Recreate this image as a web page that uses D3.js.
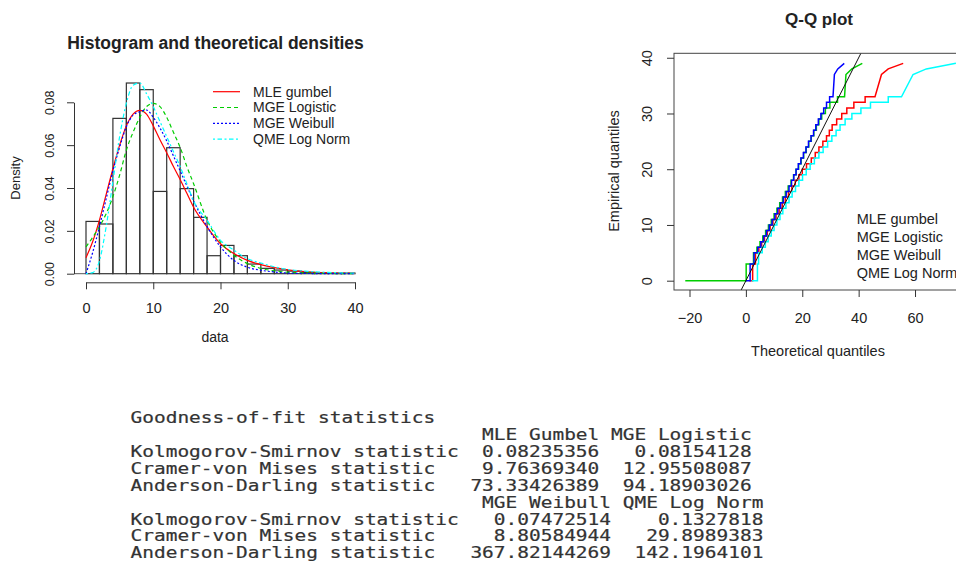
<!DOCTYPE html>
<html>
<head>
<meta charset="utf-8">
<script src="https://cdn.jsdelivr.net/npm/d3@7"></script>
<style>
  body { margin: 0; background: #fff; }
  svg { display: block; font-family: "Liberation Sans", Arial, sans-serif; }
</style>
</head>
<body>
<svg id="fig" width="956" height="561"></svg>
<script>
// ---- histogram + fitted densities ----
const binEdges = [0,2,4,6,8,10,12,14,16,18,20,22,24,26,28,30,32,34,36,38,40];
const binDensity = [0.0244,0.0232,0.0725,0.0890,0.0859,0.0384,0.0588,0.0397,0.0263,0.0084,
                    0.0132,0.0084,0.0045,0.0025,0.0017,0.0012,0.0006,0.0004,0.0003,0.0003];

const densX      = [0,1,2,3,4,5,6,7,8,9,10,11,12,13,14,15,16,18,20,22,24,26,28,30,33,36,40];
const gumbelDens = [0.0075,0.015,0.025,0.037,0.049,0.060,0.069,0.0745,0.0762,0.0745,0.069,0.0625,0.0565,0.050,0.044,0.0375,0.031,0.0218,0.014,0.0094,0.0062,0.0042,0.0028,0.0018,0.0009,0.0004,0.0002];
const logisDens  = [0.0125,0.017,0.022,0.028,0.036,0.046,0.0577,0.066,0.073,0.078,0.0795,0.078,0.073,0.066,0.059,0.050,0.042,0.025,0.0148,0.0086,0.0047,0.0025,0.0013,0.0007,0.0003,0.0001,0.00005];
const weibDens   = [0.0,0.010,0.022,0.035,0.048,0.059,0.0686,0.074,0.0756,0.0764,0.073,0.068,0.062,0.055,0.048,0.041,0.034,0.022,0.0125,0.0062,0.003,0.0016,0.0008,0.0003,0.0001,0.0,0.0];
const lnormDens  = [0.0,0.0005,0.006,0.022,0.043,0.064,0.0795,0.088,0.089,0.084,0.078,0.071,0.064,0.057,0.050,0.042,0.034,0.025,0.0156,0.011,0.007,0.005,0.0032,0.002,0.0011,0.0006,0.0003];

const fitNames  = ['MLE gumbel', 'MGE Logistic', 'MGE Weibull', 'QME Log Norm'];
const fitColors = ['#ff0000', '#00cd00', '#0000ff', '#00ffff'];
const fitDash   = [null, '4,3', '2,2', '2,2.5,4.5,2.5'];

// ---- Q-Q plot: empirical quantiles (ties give the steps) ----
const empQ = [0,0, 3,3, 5,5, 6,6, 7,7, 8,8, 9,9, 10,10, 11,11, 12,12, 13,13, 14,14, 15,15, 16,16,
              17,17, 18,18, 19,19, 20,20, 21,21, 22,22, 23,23, 24,24, 25,25, 26,26, 27,27, 28,28,
              29,29, 30,30, 31,31, 32,32, 33,33, 37, 38, 39];
const gumbelQ = [1.2,2.4, 2.4,3.4, 3.4,4.6, 4.6,5.6, 5.6,6.6, 6.6,7.6, 7.6,8.6, 8.6,9.6, 9.6,10.7, 10.7,11.8,
                 11.8,12.9, 12.9,14.0, 14.0,15.1, 15.1,16.3, 16.3,17.5, 17.5,18.8, 18.8,20.0, 20.0,21.5,
                 21.5,23.2, 23.2,24.6, 24.6,25.9, 25.9,27.3, 27.3,28.6, 28.6,29.6, 29.6,30.6, 30.6,32.2,
                 32.2,34.0, 34.0,35.8, 35.8,38.3, 38.3,42.3, 42.3,45.8, 48.1, 50.5, 55.8];
const logisQ  = [-21.5,0.1, 0.1,2.7, 2.7,3.9, 3.9,5.0, 5.0,6.0, 6.0,7.0, 7.0,8.0, 8.0,9.0, 9.0,10.0, 10.0,11.0,
                 11.0,12.0, 12.0,13.0, 13.0,14.0, 14.0,15.0, 15.0,16.0, 16.0,16.9, 16.9,17.8, 17.8,18.7,
                 18.7,19.6, 19.6,20.5, 20.5,21.4, 21.4,22.3, 22.3,23.2, 23.2,24.1, 24.1,25.0, 25.0,25.9,
                 25.9,26.9, 26.9,28.2, 28.2,29.8, 29.8,32.5, 32.5,35.0, 35.5, 37.6, 41.3];
const weibQ   = [0.0,1.5, 1.5,2.9, 2.9,4.2, 4.2,5.3, 5.3,6.3, 6.3,7.3, 7.3,8.3, 8.3,9.3, 9.3,10.3, 10.3,11.3,
                 11.3,12.3, 12.3,13.3, 13.3,14.3, 14.3,15.3, 15.3,16.2, 16.2,17.0, 17.0,17.8, 17.8,18.6,
                 18.6,19.5, 19.5,20.4, 20.4,21.3, 21.3,22.2, 22.2,23.1, 23.1,24.0, 24.0,24.8, 24.8,25.7,
                 25.7,26.6, 26.6,27.6, 27.6,28.6, 28.6,29.7, 29.7,30.9, 31.4, 32.6, 34.9];
const lnormQ  = [2.1,4.1, 4.1,4.5, 4.5,5.8, 5.8,6.9, 6.9,7.9, 7.9,9.0, 9.0,10.0, 10.0,11.0, 11.0,12.1, 12.1,13.1,
                 13.1,14.2, 14.2,15.3, 15.3,16.4, 16.4,17.6, 17.6,18.8, 18.8,20.1, 20.1,21.4, 21.4,22.8,
                 22.8,24.3, 24.3,25.9, 25.9,27.4, 27.4,29.0, 29.0,30.5, 30.5,32.0, 32.0,33.4, 33.4,35.2,
                 35.2,37.6, 37.6,40.8, 40.8,44.2, 44.2,50.5, 50.5,55.2, 59.3, 64.0, 74.5];

// ---- goodness-of-fit printout ----
const gofStats = ['Kolmogorov-Smirnov statistic', 'Cramer-von Mises statistic', 'Anderson-Darling statistic'];
const gofMethods = ['MLE Gumbel', 'MGE Logistic', 'MGE Weibull', 'QME Log Norm'];
const gumbelGof = ['0.08235356', '9.76369340', '73.33426389'];
const logisGof  = ['0.08154128', '12.95508087', '94.18903026'];
const weibGof   = ['0.07472514', '8.80584944', '367.82144269'];
const lnormGof  = ['0.1327818', '29.8989383', '142.1964101'];

const svg = d3.select('#fig');
const ink = '#222';

// ================= histogram panel =================
const hx = d3.scaleLinear().domain([0, 40]).range([86, 355]);
const hy = d3.scaleLinear().domain([0, 0.08]).range([273.7, 102.3]);
const hist = svg.append('g');

const bins = binDensity.map((d, i) => ({x0: binEdges[i], x1: binEdges[i + 1], d: d}));
hist.selectAll('rect.bar')
    .data(bins)
    .join('rect')
    .attr('class', 'bar')
    .attr('x', d => hx(d.x0))
    .attr('y', d => hy(d.d))
    .attr('width', d => hx(d.x1) - hx(d.x0))
    .attr('height', d => hy(0) - hy(d.d))
    .attr('fill', 'none')
    .attr('stroke', '#333')
    .attr('stroke-width', 1.2);

hist.append('line')
    .attr('x1', 74).attr('x2', hx(0)).attr('y1', hy(0)).attr('y2', hy(0))
    .attr('stroke', '#555');

const densSeries = [gumbelDens, logisDens, weibDens, lnormDens];
const densLine = d3.line().x(d => hx(d[0])).y(d => hy(d[1])).curve(d3.curveMonotoneX);
densSeries.forEach((vals, k) => {
    hist.append('path')
        .attr('d', densLine(densX.map((x, i) => [x, vals[i]])))
        .attr('fill', 'none')
        .attr('stroke', fitColors[k])
        .attr('stroke-width', 1.2)
        .attr('stroke-dasharray', fitDash[k]);
});

const hxAxis = hist.append('g')
    .attr('transform', `translate(0, 282.3)`)
    .call(d3.axisBottom(hx).tickValues([0, 10, 20, 30, 40]).tickSize(7).tickSizeOuter(0).tickPadding(13));
const hyAxis = hist.append('g')
    .attr('transform', `translate(74, 0)`)
    .call(d3.axisLeft(hy).tickValues([0, 0.02, 0.04, 0.06, 0.08]).tickFormat(d3.format('.2f')).tickSize(7).tickSizeOuter(0));
hyAxis.selectAll('text')
    .attr('x', 0).attr('dy', '0.35em')
    .attr('transform', 'translate(-24.7, 0) rotate(-90)')
    .attr('text-anchor', 'middle')
    .style('font-size', '12.5px');
hxAxis.selectAll('text').style('font-size', '14.5px');
[hxAxis, hyAxis].forEach(g => {
    g.selectAll('path, line').attr('stroke', '#333');
    g.selectAll('text').attr('fill', ink).style('font-family', '"Liberation Sans", Arial, sans-serif');
});

hist.append('text')
    .attr('x', 215.5).attr('y', 49)
    .attr('text-anchor', 'middle')
    .style('font-size', '17.5px').style('font-weight', 'bold')
    .attr('fill', ink)
    .text('Histogram and theoretical densities');
hist.append('text')
    .attr('x', 215).attr('y', 342)
    .attr('text-anchor', 'middle')
    .style('font-size', '14px').attr('fill', ink)
    .text('data');
hist.append('text')
    .attr('transform', 'translate(19.5, 178) rotate(-90)')
    .attr('text-anchor', 'middle')
    .style('font-size', '13px').attr('fill', ink)
    .text('Density');

const hleg = hist.append('g');
fitNames.forEach((name, k) => {
    const yy = 91.7 + k * 15.8;
    hleg.append('line')
        .attr('x1', 213).attr('x2', 240).attr('y1', yy).attr('y2', yy)
        .attr('stroke', fitColors[k]).attr('stroke-width', 1.2)
        .attr('stroke-dasharray', fitDash[k]);
    hleg.append('text')
        .attr('x', 253).attr('y', yy).attr('dy', '0.35em')
        .style('font-size', '14px').attr('fill', ink)
        .text(name);
});

// ================= Q-Q panel =================
const qx = d3.scaleLinear().domain([-25.5, 79.5]).range([674, 970]);
const qy = d3.scaleLinear().domain([-1.67, 40.8]).range([290, 53.3]);
const qq = svg.append('g');

qq.append('clipPath').attr('id', 'qqclip')
  .append('rect')
    .attr('x', qx(-25.5)).attr('y', qy(40.8))
    .attr('width', qx(79.5) - qx(-25.5)).attr('height', qy(-1.67) - qy(40.8));

const qqSeries = [gumbelQ, logisQ, weibQ, lnormQ];
const qqLine = d3.line().x(d => qx(d[0])).y(d => qy(d[1]));
const qqPlot = qq.append('g').attr('clip-path', 'url(#qqclip)');
qqSeries.forEach((vals, k) => {
    qqPlot.append('path')
        .attr('d', qqLine(vals.map((x, i) => [x, empQ[i]])))
        .attr('fill', 'none')
        .attr('stroke', fitColors[k])
        .attr('stroke-width', 1.5);
});
qqPlot.append('path')
    .attr('d', qqLine([[-5, -5], [45, 45]]))
    .attr('fill', 'none').attr('stroke', '#111').attr('stroke-width', 1);

qq.append('rect')
    .attr('x', qx(-25.5)).attr('y', qy(40.8))
    .attr('width', qx(79.5) - qx(-25.5)).attr('height', qy(-1.67) - qy(40.8))
    .attr('fill', 'none').attr('stroke', '#444');

const qxAxis = qq.append('g')
    .attr('transform', `translate(0, ${qy(-1.67)})`)
    .call(d3.axisBottom(qx).tickValues([-20, 0, 20, 40, 60]).tickSize(7).tickSizeOuter(0).tickPadding(15.4));
const qyAxis = qq.append('g')
    .attr('transform', `translate(${qx(-25.5)}, 0)`)
    .call(d3.axisLeft(qy).tickValues([0, 10, 20, 30, 40]).tickSize(7).tickSizeOuter(0));
qyAxis.selectAll('text')
    .attr('x', 0).attr('dy', '0.35em')
    .attr('transform', 'translate(-27.3, 0) rotate(-90)')
    .attr('text-anchor', 'middle');
[qxAxis, qyAxis].forEach(g => {
    g.select('.domain').remove();
    g.selectAll('line').attr('stroke', '#333');
    g.selectAll('text').attr('fill', ink)
        .style('font-size', '14.5px')
        .style('font-family', '"Liberation Sans", Arial, sans-serif');
});

qq.append('text')
    .attr('x', 819).attr('y', 25)
    .attr('text-anchor', 'middle')
    .style('font-size', '17px').style('font-weight', 'bold')
    .attr('fill', ink)
    .text('Q-Q plot');
qq.append('text')
    .attr('x', 818).attr('y', 356)
    .attr('text-anchor', 'middle')
    .style('font-size', '14.5px').attr('fill', ink)
    .text('Theoretical quantiles');
qq.append('text')
    .attr('transform', 'translate(619, 171) rotate(-90)')
    .attr('text-anchor', 'middle')
    .style('font-size', '14.5px').attr('fill', ink)
    .text('Empirical quantiles');
fitNames.forEach((name, k) => {
    qq.append('text')
        .attr('x', 856.7).attr('y', 219 + k * 18.1).attr('dy', '0.35em')
        .style('font-size', '14.5px').attr('fill', ink)
        .text(name);
});

// ================= goodness-of-fit text =================
const gofCols = [gumbelGof, logisGof, weibGof, lnormGof];
const nameWidth = d3.max(gofStats, s => s.length);
const lines = ['Goodness-of-fit statistics'];
[[0, 1], [2, 3]].forEach(pair => {
    const widths = pair.map(j => Math.max(gofMethods[j].length, d3.max(gofCols[j], v => v.length)));
    lines.push(' '.repeat(nameWidth) + pair.map((j, c) => ' ' + gofMethods[j].padStart(widths[c])).join(''));
    gofStats.forEach((s, r) => {
        lines.push(s.padEnd(nameWidth) + pair.map((j, c) => ' ' + gofCols[j][r].padStart(widths[c])).join(''));
    });
});

const charW = 11.72;
svg.append('g').selectAll('text')
    .data(lines)
    .join('text')
    .attr('x', 130.5)
    .attr('y', (d, i) => 417.5 + i * 16.9)
    .attr('dy', '0.36em')
    .attr('textLength', d => d.length * charW)
    .attr('lengthAdjust', 'spacingAndGlyphs')
    .style('font-family', '"DejaVu Sans Mono", "Liberation Mono", monospace')
    .style('font-size', '15.6px')
    .style('white-space', 'pre')
    .attr('fill', '#333')
    .attr('stroke', '#333')
    .attr('stroke-width', 0.2)
    .text(d => d);
</script>
</body>
</html>
